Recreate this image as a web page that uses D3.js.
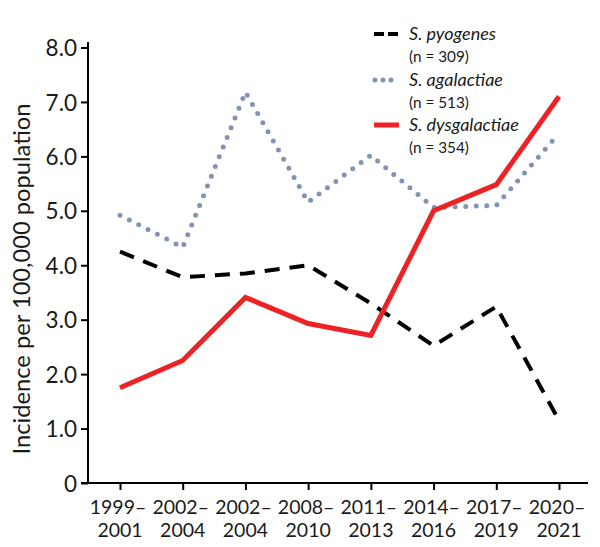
<!DOCTYPE html>
<html>
<head>
<meta charset="utf-8">
<script src="https://cdn.jsdelivr.net/npm/d3@7"></script>
<style>
  body { margin: 0; background: #fff; }
  text { font-family: Lato, "Open Sans", sans-serif; fill: #1a1a1a; }
</style>
</head>
<body>
<script>
var w = 600;
var h = 547;

var periods = ["1999–2001", "2002–2004", "2002–2004b", "2008–2010", "2011–2013", "2014–2016", "2017–2019", "2020–2021"];
var periodTop = ["1999–", "2002–", "2002–", "2008–", "2011–", "2014–", "2017–", "2020–"];
var periodBottom = ["2001", "2004", "2004", "2010", "2013", "2016", "2019", "2021"];

var pyogenes = [4.25, 3.78, 3.85, 4.0, 3.3, 2.52, 3.24, 1.15];
var agalactiae = [4.92, 4.33, 7.18, 5.16, 6.02, 5.06, 5.1, 6.42];
var dysgalactiae = [1.75, 2.25, 3.41, 2.93, 2.71, 5.0, 5.48, 7.1];

var yTicks = [0, 1, 2, 3, 4, 5, 6, 7, 8];

var seriesNames = ["S. pyogenes", "S. agalactiae", "S. dysgalactiae"];
var seriesN = ["(n = 309)", "(n = 513)", "(n = 354)"];

var x = d3.scalePoint()
    .domain(periods)
    .range([120, 559]);

var y = d3.scaleLinear()
    .domain([0, 8])
    .range([483, 47.5]);

var svg = d3.select("body")
    .append("svg")
    .attr("width", w)
    .attr("height", h);

// axes
var yAxis = svg.append("g")
    .attr("transform", "translate(88,0)")
    .call(d3.axisLeft(y).tickValues(yTicks).tickSize(7).tickPadding(4)
        .tickFormat(function(d) { return d === 0 ? "0" : d3.format(".1f")(d); }));
yAxis.select(".domain").attr("d", "M0,42V483").attr("stroke-width", 2);
yAxis.selectAll(".tick line").attr("stroke-width", 2);
yAxis.selectAll(".tick text").attr("font-size", 22.5).attr("dy", "0.36em");

var xAxis = svg.append("g")
    .attr("transform", "translate(0,483)")
    .call(d3.axisBottom(x).tickSize(7).tickFormat(""));
xAxis.select(".domain").attr("d", "M81,0H588").attr("stroke-width", 2);
xAxis.selectAll(".tick line").attr("stroke-width", 2);

var labels = svg.append("g");
labels.selectAll("text.top")
    .data(periods)
    .enter()
    .append("text")
    .attr("class", "top")
    .attr("x", function(d) { return x(d) - 2; })
    .attr("y", 514)
    .attr("text-anchor", "middle")
    .attr("font-size", 19.5)
    .text(function(d, i) { return periodTop[i]; });
labels.selectAll("text.bot")
    .data(periods)
    .enter()
    .append("text")
    .attr("class", "bot")
    .attr("x", function(d) { return x(d); })
    .attr("y", 537)
    .attr("text-anchor", "middle")
    .attr("font-size", 19.5)
    .text(function(d, i) { return periodBottom[i]; });

svg.append("text")
    .attr("transform", "translate(30,279) rotate(-90)")
    .attr("text-anchor", "middle")
    .attr("font-size", 23.7)
    .text("Incidence per 100,000 population");

// lines
var line = d3.line()
    .x(function(d, i) { return x(periods[i]); })
    .y(function(d) { return y(d); });

svg.append("path")
    .datum(agalactiae)
    .attr("d", line)
    .attr("fill", "none")
    .attr("stroke", "#8294b3")
    .attr("stroke-width", 5)
    .attr("stroke-linecap", "round")
    .attr("stroke-dasharray", "0,10.5");

svg.append("path")
    .datum(pyogenes)
    .attr("d", line)
    .attr("fill", "none")
    .attr("stroke", "#000")
    .attr("stroke-width", 4)
    .attr("stroke-dasharray", "15,10");

svg.append("path")
    .datum(dysgalactiae)
    .attr("d", line)
    .attr("fill", "none")
    .attr("stroke", "#ee2124")
    .attr("stroke-width", 5)
    .attr("stroke-linejoin", "miter");

// legend
var legendY = [34, 80, 125];
var legend = svg.append("g");
legend.append("line")
    .attr("x1", 374).attr("x2", 399).attr("y1", legendY[0]).attr("y2", legendY[0])
    .attr("stroke", "#000").attr("stroke-width", 4).attr("stroke-dasharray", "10,4");
legend.append("line")
    .attr("x1", 375).attr("x2", 397).attr("y1", legendY[1]).attr("y2", legendY[1])
    .attr("stroke", "#8294b3").attr("stroke-width", 5).attr("stroke-linecap", "round")
    .attr("stroke-dasharray", "0,8");
legend.append("line")
    .attr("x1", 374).attr("x2", 399).attr("y1", legendY[2]).attr("y2", legendY[2])
    .attr("stroke", "#ee2124").attr("stroke-width", 5);

legend.selectAll("text.name")
    .data(seriesNames)
    .enter()
    .append("text")
    .attr("class", "name")
    .attr("x", 409)
    .attr("y", function(d, i) { return legendY[i] + 6; })
    .attr("font-size", 18)
    .attr("font-style", "italic")
    .text(function(d) { return d; });
legend.selectAll("text.n")
    .data(seriesN)
    .enter()
    .append("text")
    .attr("class", "n")
    .attr("x", 409)
    .attr("y", function(d, i) { return legendY[i] + 28; })
    .attr("font-size", 15.3)
    .text(function(d) { return d; });
</script>
</body>
</html>
